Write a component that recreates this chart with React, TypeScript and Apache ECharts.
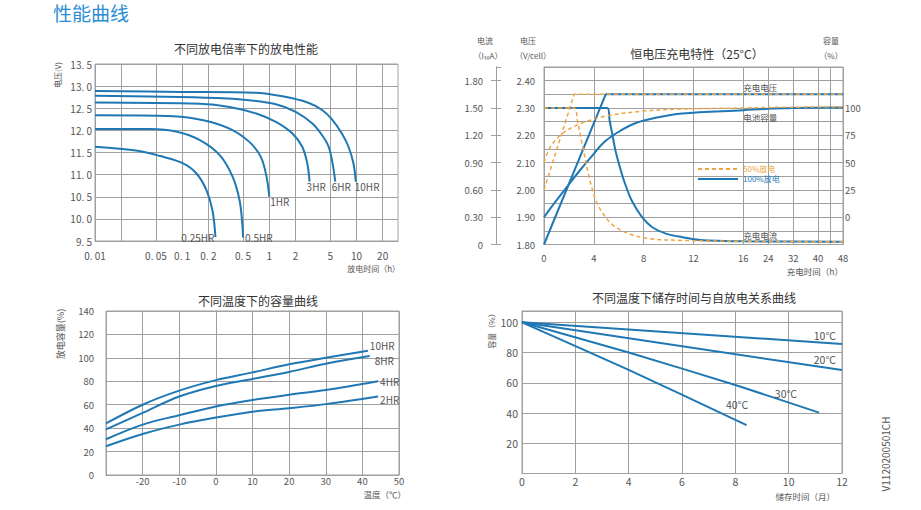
import React, { useEffect, useRef } from 'react';
import * as echarts from 'echarts';

// ---------- 不同放电倍率下的放电性能 : discharge time (h) / voltage (V)
const rateNames = ['0.25HR', '0.5HR', '1HR', '3HR', '6HR', '10HR'];
const rate025T = [0.01, 0.031, 0.056, 0.104, 0.147, 0.19, 0.223, 0.241];
const rate025V = [11.63, 11.54, 11.42, 11.25, 11.02, 10.65, 10.19, 9.59];
const rate05T = [0.01, 0.043, 0.087, 0.16, 0.27, 0.38, 0.456, 0.49, 0.5];
const rate05V = [12.03, 12.03, 11.97, 11.78, 11.44, 10.95, 10.42, 9.89, 9.58];
const rate1T = [0.01, 0.08, 0.175, 0.35, 0.59, 0.8, 0.93, 1.0];
const rate1V = [12.34, 12.32, 12.23, 12.04, 11.74, 11.4, 10.95, 10.5];
const rate3T = [0.01, 0.16, 0.35, 0.71, 1.19, 1.84, 2.39, 2.73, 2.9];
const rate3V = [12.63, 12.6, 12.53, 12.38, 12.19, 11.93, 11.63, 11.25, 10.84];
const rate6T = [0.01, 0.25, 0.59, 1.19, 2.01, 3.1, 4.04, 4.8, 5.33, 5.72];
const rate6V = [12.78, 12.73, 12.68, 12.59, 12.42, 12.16, 11.89, 11.63, 11.25, 10.84];
const rate10T = [0.01, 0.1, 0.68, 1.42, 2.85, 4.04, 5.24, 6.81, 8.11, 9.25, 9.83];
const rate10V = [12.89, 12.87, 12.85, 12.77, 12.62, 12.46, 12.25, 11.93, 11.63, 11.25, 10.84];
const timeTicks = [0.01, 0.02, 0.05, 0.1, 0.2, 0.5, 1, 2, 5, 10, 20];
const timeTickLabels = ['0. 01', '', '0. 05', '0. 1', '0. 2', '0. 5', '1', '2', '5', '10', '20'];
const timeMax = 30;

// ---------- 恒电压充电特性（25°C）: charge time (h)
const chargeTicksH = [0, 4, 8, 12, 16, 24, 32, 40, 44, 48];
const chargeLabelsH = [0, 4, 8, 12, 16, 24, 32, 40, 48];
const volT100 = [0, 4.95, 48];
const volV100 = [1.8, 2.35, 2.35];
const volT50 = [0, 2.42, 48];
const volV50 = [2.0, 2.35, 2.35];
const curT100 = [0, 5.08, 5.27, 5.47, 5.74, 6.09, 6.5, 7.05, 7.87, 8.69, 9.78, 11.1, 12.5, 16, 48];
const curI100 = [1.5, 1.5, 1.36, 1.22, 1.03, 0.85, 0.67, 0.48, 0.3, 0.19, 0.12, 0.08, 0.05, 0.035, 0.03];
const curT50 = [0, 2.4, 2.68, 2.95, 3.22, 3.5, 3.83, 4.18, 4.73, 5.55, 6.78, 8.42, 11.1, 16, 48];
const curI50 = [1.5, 1.5, 1.36, 1.18, 1.0, 0.81, 0.63, 0.48, 0.34, 0.21, 0.12, 0.065, 0.045, 0.035, 0.03];
const capT100 = [0, 0.77, 1.72, 2.68, 3.77, 4.86, 5.96, 7.32, 8.96, 11.1, 16, 24, 32, 48];
const capC100 = [0, 12, 26, 40, 55, 69, 78, 86, 91, 95, 98, 99.3, 99.9, 100.5];
const capT50 = [0, 0.49, 1.31, 2.4, 3.77, 5.14, 7.87, 11.1, 16, 24, 48];
const capC50 = [50, 64, 75, 83, 89, 93, 97, 99, 100, 100.5, 101];

// ---------- 不同温度下的容量曲线 : temperature (°C) / capacity (%)
const tempX = [-30, -20, -10, 0, 10, 20, 30];
const cap10HR = [44, 60, 72, 81, 87.6, 94.5, 100, 106];
const cap10HRx = [...tempX, 41.5];
const cap8HR = [39, 53, 67, 76, 82, 88, 95, 101.5];
const cap8HRx = [...tempX, 42];
const cap4HR = [30.5, 43, 51, 58.5, 64, 68.5, 72.5, 80];
const cap4HRx = [...tempX, 44.3];
const cap2HR = [24.5, 35, 43, 49, 54, 57, 60.5, 67];
const cap2HRx = [...tempX, 44.3];

// ---------- 不同温度下储存时间与自放电关系曲线 : months / capacity (%)
const store10M = [0, 12];
const store10C = [100, 85.7];
const store20M = [0, 12];
const store20C = [100, 68.4];
const store30M = [0, 4, 8, 11.14];
const store30C = [100, 80, 58.5, 40.3];
const store40M = [0, 4, 8.42];
const store40C = [100, 68.5, 32];

const blue = '#1f78b4';
const orange = '#f0a443';
const gray = '#a0a0a0';
const txt = '#555';
const font = '"Noto Sans CJK SC", "Noto Sans", sans-serif';

const toDisp = (t: number) => (t <= 16 ? t : 16 + (t - 16) / 4);
const fromDisp = (d: number) => (d <= 16 ? d : 16 + (d - 16) * 4);
const zip = (xs: number[], ys: number[], f: (x: number) => number = (x) => x) =>
  xs.map((x, i) => [f(x), ys[i]]);

function mark(x: number, y: number, text: string, label: any) {
  return {
    symbol: 'circle',
    symbolSize: 0,
    silent: true,
    data: [{ coord: [x, y], value: 0 }],
    label: { show: true, formatter: text, color: txt, fontSize: 10, fontFamily: font, ...label },
  };
}

function line(name: string, data: number[][], xi: number, yi: number, color: string, extra: any = {}) {
  return {
    type: 'line',
    name,
    data,
    xAxisIndex: xi,
    yAxisIndex: yi,
    symbol: 'none',
    showSymbol: false,
    smooth: 0.35,
    silent: true,
    lineStyle: { color, width: 2 },
    itemStyle: { color },
    ...extra,
  };
}

function text(x: number, y: number, s: string, size: number, opts: any = {}) {
  const align = opts.align || 'center';
  return {
    type: 'text',
    x,
    y,
    rotation: opts.rotation || 0,
    silent: true,
    style: {
      text: s,
      fill: opts.color || txt,
      font: `${size}px ${font}`,
      align,
      verticalAlign: 'middle',
      textAlign: align,
      textVerticalAlign: 'middle',
    },
  };
}

function buildOption(): any {
  const gridStyle = { show: true, borderColor: gray, borderWidth: 1, backgroundColor: 'transparent' };
  const split = { show: true, lineStyle: { color: gray, width: 1 } };
  const axLine = { show: true, lineStyle: { color: gray, width: 1 } };
  const lbl = (size: number, margin: number) => ({ color: txt, fontSize: size, fontFamily: font, margin });

  const rateSeries = [
    { t: rate025T, v: rate025V, lab: { position: 'left', distance: 1, offset: [0, 0] } },
    { t: rate05T, v: rate05V, lab: { position: 'right', distance: 2, offset: [0, 0] } },
    { t: rate1T, v: rate1V, lab: { position: 'right', distance: 1, offset: [0, 5] } },
    { t: rate3T, v: rate3V, lab: { position: 'right', distance: 0, offset: [-3, 4.5] } },
    { t: rate6T, v: rate6V, lab: { position: 'right', distance: 0, offset: [-3.5, 4.5] } },
    { t: rate10T, v: rate10V, lab: { position: 'right', distance: 0, offset: [-1, 4.5] } },
  ].map((r, i) => {
    const n = r.t.length - 1;
    return line(rateNames[i], zip(r.t, r.v, Math.log10), 0, 0, blue, {
      markPoint: mark(Math.log10(r.t[n]), r.v[n], rateNames[i], r.lab),
    });
  });

  const n100 = '100%放电';
  const n50 = '50%放电';
  const dash = { color: orange, width: 1.5, type: [4, 3] };

  const chargeSeries = [
    line(n100, zip(volT100, volV100, toDisp), 1, 1, blue, {
      smooth: false,
      markPoint: mark(toDisp(16), 2.35, '充电电压', { position: 'right', distance: 0, offset: [0, -7], fontSize: 8.5 }),
    }),
    line(n100, zip(curT100, curI100, toDisp), 1, 2, blue, {
      markPoint: mark(toDisp(16), 0.035, '充电电流', { position: 'right', distance: 0, offset: [0, -6.5], fontSize: 8.5 }),
    }),
    line(n100, zip(capT100, capC100, toDisp), 1, 4, blue, {
      markPoint: mark(toDisp(16), 98, '电池容量', { position: 'right', distance: 0, offset: [0, 7], fontSize: 8.5 }),
    }),
    line(n50, zip(volT50, volV50, toDisp), 1, 1, orange, { smooth: false, lineStyle: dash }),
    line(n50, zip(curT50, curI50, toDisp), 1, 2, orange, { lineStyle: dash }),
    line(n50, zip(capT50, capC50, toDisp), 1, 4, orange, { lineStyle: dash }),
  ];

  const tempDefs = [
    { name: '10HR', x: cap10HRx, y: cap10HR, lab: { position: 'right', distance: 2, offset: [0, -5.5] } },
    { name: '8HR', x: cap8HRx, y: cap8HR, lab: { position: 'right', distance: 5, offset: [0, 4] } },
    { name: '4HR', x: cap4HRx, y: cap4HR, lab: { position: 'right', distance: 2, offset: [0, 0.7] } },
    { name: '2HR', x: cap2HRx, y: cap2HR, lab: { position: 'right', distance: 2, offset: [0, 2.5] } },
  ];
  const tempSeries = tempDefs.map((d) => {
    const n = d.x.length - 1;
    return line(d.name, zip(d.x, d.y), 2, 5, blue, {
      markPoint: mark(d.x[n], d.y[n], d.name, { ...d.lab, lineHeight: 10 }),
    });
  });

  const storeDefs = [
    { name: '10°C', x: store10M, y: store10C, lab: { position: 'left', distance: 6, offset: [0, -8.5] } },
    { name: '20°C', x: store20M, y: store20C, lab: { position: 'left', distance: 6, offset: [0, -11] } },
    { name: '30°C', x: store30M, y: store30C, lab: { position: 'left', distance: 22, offset: [0, -19] } },
    { name: '40°C', x: store40M, y: store40C, lab: { position: 'top', distance: 0, offset: [-9.5, -15.5] } },
  ];
  const storeSeries = storeDefs.map((d) => {
    const n = d.x.length - 1;
    return line(d.name, zip(d.x, d.y), 3, 6, blue, {
      smooth: 0.2,
      markPoint: mark(d.x[n], d.y[n], d.name, { ...d.lab, fontSize: 10.5 }),
    });
  });

  return {
    animation: false,
    backgroundColor: '#fff',
    textStyle: { fontFamily: font },
    legend: {
      left: 697,
      top: 165,
      orient: 'vertical',
      itemWidth: 40,
      itemHeight: 8,
      itemGap: 2,
      padding: 0,
      selectedMode: false,
      itemStyle: { opacity: 0 },
      textStyle: { fontSize: 8, fontFamily: font, padding: [0, 0, 0, 0] },
      data: [
        { name: n50, textStyle: { color: orange } },
        { name: n100, textStyle: { color: blue } },
      ],
    },
    grid: [
      { left: 95, top: 64, width: 303, height: 177, ...gridStyle },
      { left: 544, top: 67, width: 299, height: 177.5, ...gridStyle },
      { left: 106, top: 311, width: 293, height: 164, ...gridStyle },
      { left: 522, top: 311, width: 320, height: 162.5, ...gridStyle },
    ],
    xAxis: [
      {
        gridIndex: 0,
        type: 'value',
        min: -2,
        max: Math.log10(timeMax),
        axisLine: axLine,
        axisTick: { show: true, length: 0, customValues: timeTicks.map(Math.log10) },
        splitLine: split,
        axisLabel: {
          ...lbl(10, 9),
          customValues: timeTicks.filter((_, i) => timeTickLabels[i] !== '').map(Math.log10),
          formatter: (v: number) => {
            const i = timeTicks.findIndex((t) => Math.abs(Math.log10(t) - v) < 1e-6);
            return i >= 0 ? timeTickLabels[i] : '';
          },
        },
      },
      {
        gridIndex: 1,
        type: 'value',
        min: 0,
        max: toDisp(48),
        axisLine: axLine,
        axisTick: { show: true, length: 0, customValues: chargeTicksH.map(toDisp) },
        splitLine: split,
        axisLabel: {
          ...lbl(9.5, 9),
          customValues: chargeLabelsH.map(toDisp),
          formatter: (v: number) => String(Math.round(fromDisp(v))),
        },
      },
      {
        gridIndex: 2,
        type: 'value',
        min: -30,
        max: 50,
        interval: 10,
        axisLine: axLine,
        axisTick: { show: false },
        splitLine: split,
        axisLabel: { ...lbl(9.5, 1), formatter: (v: number) => (v <= -30 ? '' : String(v)) },
      },
      {
        gridIndex: 3,
        type: 'value',
        min: 0,
        max: 12,
        interval: 2,
        axisLine: axLine,
        axisTick: { show: false },
        splitLine: split,
        axisLabel: lbl(10.5, 3),
      },
    ],
    yAxis: [
      {
        gridIndex: 0,
        type: 'value',
        min: 9.5,
        max: 13.5,
        interval: 0.5,
        axisLine: axLine,
        axisTick: { show: false },
        splitLine: split,
        axisLabel: { ...lbl(10, 3), formatter: (v: number) => v.toFixed(1).replace('.', '. ') },
      },
      {
        gridIndex: 1,
        type: 'value',
        position: 'left',
        min: 1.8,
        max: 2.45,
        interval: 0.05,
        axisLine: axLine,
        axisTick: { show: false },
        splitLine: split,
        axisLabel: {
          ...lbl(9.5, 9),
          formatter: (v: number) => {
            const c = Math.round(v * 100);
            return c % 10 === 0 && c <= 240 ? (c / 100).toFixed(2) : '';
          },
        },
      },
      {
        gridIndex: 1,
        type: 'value',
        position: 'left',
        offset: 48,
        min: 0,
        max: 1.95,
        interval: 0.3,
        axisLine: axLine,
        axisTick: { show: true, length: 5, lineStyle: { color: gray } },
        splitLine: { show: false },
        axisLabel: {
          ...lbl(9.5, 13),
          showMaxLabel: false,
          formatter: (v: number) => (v > 1.81 ? '' : v === 0 ? '0' : v.toFixed(2)),
        },
      },
      {
        gridIndex: 1,
        type: 'value',
        position: 'left',
        offset: 48,
        min: 0,
        max: 1.95,
        interval: 0.3,
        axisLine: axLine,
        axisTick: { show: true, inside: true, length: 5, lineStyle: { color: gray } },
        splitLine: { show: false },
        axisLabel: { show: false },
      },
      {
        gridIndex: 1,
        type: 'value',
        position: 'right',
        min: -25,
        max: 137.5,
        interval: 25,
        axisLine: { show: false },
        axisTick: { show: false },
        splitLine: { show: false },
        axisLabel: { ...lbl(9.5, 2), formatter: (v: number) => (v >= 0 && v <= 100 ? String(v) : '') },
      },
      {
        gridIndex: 2,
        type: 'value',
        min: 0,
        max: 140,
        interval: 20,
        axisLine: axLine,
        axisTick: { show: false },
        splitLine: split,
        axisLabel: lbl(9.5, 12),
      },
      {
        gridIndex: 3,
        type: 'value',
        min: 0,
        max: 107.5,
        interval: 20,
        axisLine: axLine,
        axisTick: { show: false },
        splitLine: split,
        axisLabel: { ...lbl(10.5, 4), formatter: (v: number) => (v > 0 && v <= 100 ? String(v) : '') },
      },
    ],
    series: [...rateSeries, ...chargeSeries, ...tempSeries, ...storeSeries],
    graphic: [
      text(53, 12, '性能曲线', 19, { color: '#2a8dd4', align: 'left' }),
      text(246, 48, '不同放电倍率下的放电性能', 12, { color: '#333' }),
      text(697, 53, '恒电压充电特性（25°C）', 12, { color: '#333' }),
      text(258, 300, '不同温度下的容量曲线', 12, { color: '#333' }),
      text(694, 297, '不同温度下储存时间与自放电关系曲线', 12, { color: '#333' }),
      text(57, 75, '电压(V)', 8, { rotation: Math.PI / 2 }),
      text(400, 268, '放电时间（h）', 8, { align: 'right' }),
      text(485, 40, '电流', 8),
      text(488, 55, '（I₁₀A）', 8),
      text(528, 40, '电压', 8),
      text(533, 55, '（V/cell）', 8),
      text(831, 40, '容量', 8),
      text(831, 55, '（%）', 8),
      text(843, 271, '充电时间（h）', 8.5, { align: 'right' }),
      text(60, 334, '放电容量(%)', 9, { rotation: Math.PI / 2 }),
      text(406, 494, '温度（℃）', 8.5, { align: 'right' }),
      text(491, 329, '容量（%）', 8, { rotation: Math.PI / 2 }),
      text(835, 496, '储存时间（月）', 8.5, { align: 'right' }),
      text(885, 454, 'V1120200501CH', 10, { rotation: Math.PI / 2 }),
    ],
  };
}

export default function App() {
  const ref = useRef<HTMLDivElement>(null);
  useEffect(() => {
    document.body.style.margin = '0';
    const chart = echarts.init(ref.current as HTMLDivElement, null, { renderer: 'svg' });
    chart.setOption(buildOption());
    return () => chart.dispose();
  }, []);
  return <div ref={ref} style={{ width: 921, height: 510, background: '#fff' }} />;
}
